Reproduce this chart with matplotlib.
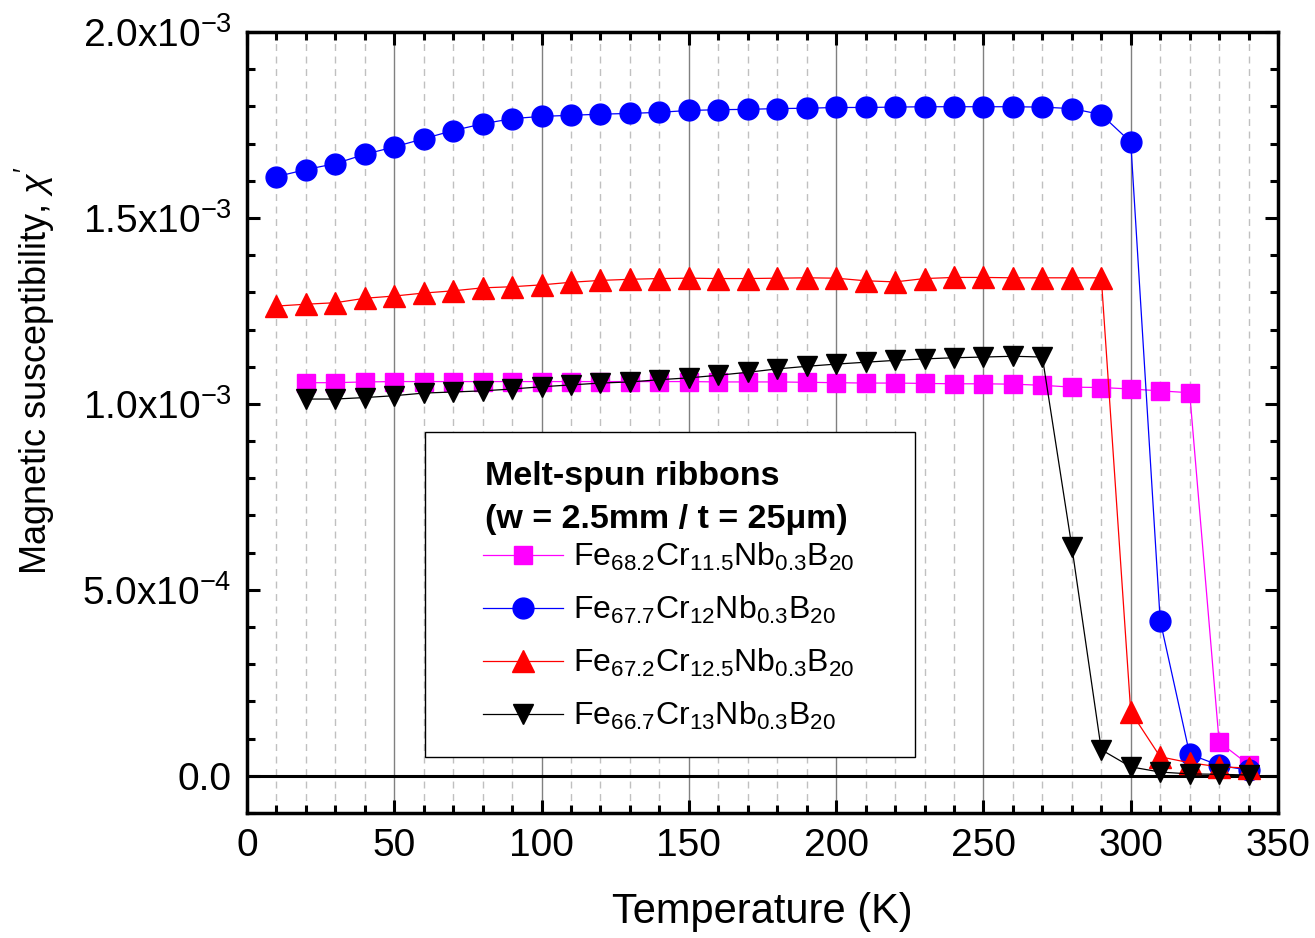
import numpy as np
import matplotlib
matplotlib.use("Agg")
from matplotlib import pyplot as plt
from matplotlib.ticker import MultipleLocator, FixedLocator, FixedFormatter
from matplotlib.patches import Rectangle

plt.rcParams['font.family'] = ['Liberation Sans', 'DejaVu Sans']
plt.rcParams['mathtext.fontset'] = 'custom'
plt.rcParams['mathtext.rm'] = 'Liberation Sans'
plt.rcParams['mathtext.it'] = 'Liberation Sans:italic'
plt.rcParams['mathtext.bf'] = 'Liberation Sans:bold'
plt.rcParams['mathtext.default'] = 'regular'

# temperatures (K) and susceptibility (units of 1e-3)
T_682 = np.arange(20, 341, 10)
chi_682 = [1.057, 1.057, 1.059, 1.060, 1.060, 1.060, 1.060, 1.060, 1.060, 1.060,
           1.060, 1.060, 1.060, 1.060, 1.059, 1.059, 1.059, 1.058, 1.057, 1.056,
           1.056, 1.055, 1.054, 1.054, 1.053, 1.050, 1.045, 1.044, 1.040, 1.035,
           1.030, 0.091, 0.030]

T_677 = np.arange(10, 341, 10)
chi_677 = [1.611, 1.630, 1.646, 1.671, 1.691, 1.713, 1.735, 1.753, 1.767, 1.773,
           1.776, 1.779, 1.781, 1.784, 1.789, 1.791, 1.792, 1.794, 1.795, 1.797,
           1.797, 1.798, 1.799, 1.799, 1.799, 1.799, 1.798, 1.794, 1.778, 1.704,
           0.417, 0.058, 0.028, 0.015]

T_672 = np.arange(10, 341, 10)
chi_672 = [1.263, 1.268, 1.272, 1.284, 1.290, 1.298, 1.304, 1.312, 1.315, 1.320,
           1.327, 1.332, 1.335, 1.337, 1.338, 1.337, 1.337, 1.338, 1.339, 1.338,
           1.331, 1.328, 1.337, 1.340, 1.340, 1.339, 1.339, 1.339, 1.339, 0.172,
           0.051, 0.035, 0.024, 0.021]

T_667 = np.arange(20, 341, 10)
chi_667 = [1.013, 1.013, 1.017, 1.022, 1.029, 1.032, 1.035, 1.040, 1.046, 1.051,
           1.056, 1.059, 1.065, 1.070, 1.077, 1.085, 1.094, 1.101, 1.107, 1.112,
           1.117, 1.121, 1.124, 1.126, 1.128, 1.126, 0.616, 0.070, 0.024, 0.010,
           0.005, 0.004, 0.002]

labels = [r'Fe$_{68.2}$Cr$_{11.5}$Nb$_{0.3}$B$_{20}$',
          r'Fe$_{67.7}$Cr$_{12}$Nb$_{0.3}$B$_{20}$',
          r'Fe$_{67.2}$Cr$_{12.5}$Nb$_{0.3}$B$_{20}$',
          r'Fe$_{66.7}$Cr$_{13}$Nb$_{0.3}$B$_{20}$']

ytick_vals = [0.0, 5.0e-4, 1.0e-3, 1.5e-3, 2.0e-3]
ytick_labels = ['0.0', r'5.0x10$^{-4}$', r'1.0x10$^{-3}$', r'1.5x10$^{-3}$', r'2.0x10$^{-3}$']

fig = plt.figure(figsize=(13.15, 9.38), dpi=100)
ax = fig.add_axes([0.1878, 0.1333, 0.9719 - 0.1878, 0.9659 - 0.1333])

ax.plot(T_682, np.array(chi_682) * 1e-3, color='#FF00FF', marker='s', ms=13, lw=0.9, label=labels[0], zorder=3)
ax.plot(T_677, np.array(chi_677) * 1e-3, color='#0000FF', marker='o', ms=15, lw=0.9, label=labels[1], zorder=4)
ax.plot(T_672, np.array(chi_672) * 1e-3, color='#FF0000', marker='^', ms=16, lw=0.9, label=labels[2], zorder=5)
ax.plot(T_667, np.array(chi_667) * 1e-3, color='black', marker='v', ms=15, lw=0.9, label=labels[3], zorder=6)

ax.axhline(0, color='black', lw=2.2, zorder=2)

ax.set_xlim(0, 350)
ax.set_ylim(-1.0e-4, 2.0e-3)

ax.xaxis.set_major_locator(MultipleLocator(50))
ax.xaxis.set_minor_locator(MultipleLocator(10))
ax.yaxis.set_major_locator(FixedLocator(ytick_vals))
ax.yaxis.set_major_formatter(FixedFormatter(ytick_labels))
ax.yaxis.set_minor_locator(MultipleLocator(1.0e-4))

ax.grid(which='major', axis='x', color='#808080', lw=1.0, ls='-')
ax.grid(which='minor', axis='x', color='#c0c0c0', lw=1.0, ls=(0, (5, 4)))
ax.set_axisbelow(True)

for s in ax.spines.values():
    s.set_linewidth(2.5)
ax.tick_params(which='both', direction='in', top=True, right=True, width=2.2, labelsize=28)
ax.tick_params(which='major', length=9.5, pad=11)
ax.tick_params(which='minor', length=5.5)

ax.set_xlabel('Temperature (K)', fontsize=30, labelpad=20)
ax.set_ylabel(r"Magnetic susceptibility, $\mathit{\chi}'$", fontsize=26)
ax.yaxis.set_label_coords(-0.184, 0.567)

# legend frame and heading drawn separately so spacing can be set freely
ax.add_patch(Rectangle((0.1726, 0.0717), 0.648 - 0.1726, 0.488 - 0.0717, transform=ax.transAxes,
                       facecolor='white', edgecolor='black', lw=1.0, zorder=7))
ax.text(0.2308, 0.420, 'Melt-spun ribbons', transform=ax.transAxes, fontsize=24.5,
        fontweight='bold', va='baseline', ha='left', zorder=8)
ax.text(0.2308, 0.365, '(w = 2.5mm / t = 25\u03bcm)', transform=ax.transAxes, fontsize=24.5,
        fontweight='bold', va='baseline', ha='left', zorder=8)
leg = ax.legend(loc='upper left', bbox_to_anchor=(0.229, 0.348), frameon=False,
                fontsize=23, borderpad=0, handlelength=2.5,
                handletextpad=0.3, labelspacing=0.65, borderaxespad=0)
leg.set_zorder(8)

fig.savefig('out.png', dpi=100)
